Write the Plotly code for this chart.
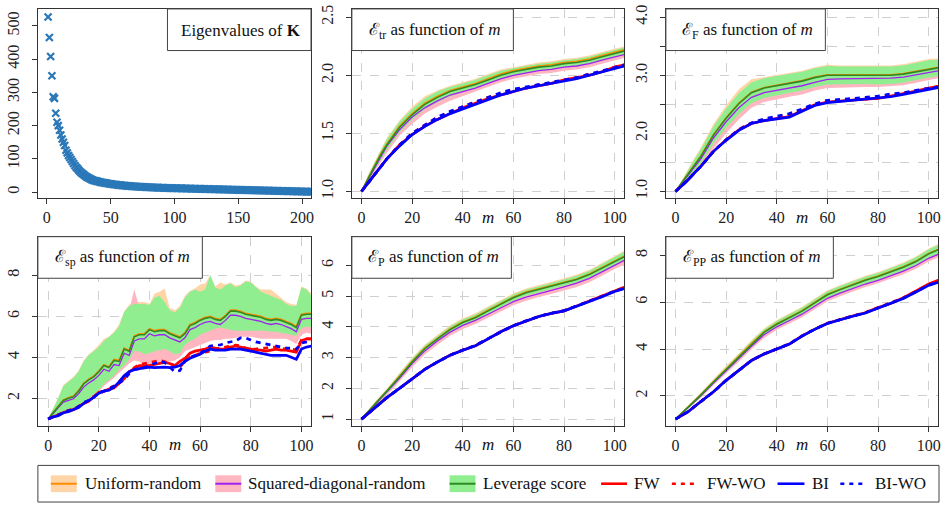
import plotly.graph_objects as go

W, H = 946, 507
OX, OY = 0, 0  # page body margin is removed below, so figure pixels == page pixels

# ---------------- data ----------------
EIG = [527, 465, 408, 350, 287, 282, 237, 210, 200, 186,
       172, 160, 150, 140, 126, 118, 110, 104, 98, 92,
       86, 80, 75, 71, 66, 62, 58, 55, 52, 49,
       46, 44, 42, 40, 38, 36, 35, 34, 33, 32,
       31, 30, 29, 28.5, 28, 27, 26.5, 26, 25, 24.5,
       24, 23.5, 23, 22.5, 22, 21.5, 21, 20.6, 20.2, 19.8,
       19.4, 19, 18.7, 18.4, 18.1, 17.8, 17.5, 17.2, 16.9, 16.6,
       16.4, 16.2, 16.0, 15.8, 15.6, 15.4, 15.2, 15.0, 14.8, 14.6,
       14.4, 14.2, 14.0, 13.8, 13.6, 13.5, 13.4, 13.2, 13.0, 12.9,
       12.8, 12.6, 12.5, 12.4, 12.2, 12.1, 12.0, 11.9, 11.8, 11.7,
       11.6, 11.5, 11.4, 11.3, 11.2, 11.1, 11.0, 10.9, 10.8, 10.7,
       10.6, 10.5, 10.4, 10.3, 10.2, 10.1, 10.0, 9.9, 9.8, 9.7,
       9.6, 9.5, 9.4, 9.3, 9.2, 9.1, 9.0, 8.9, 8.8, 8.7,
       8.6, 8.5, 8.4, 8.3, 8.2, 8.1, 8.0, 7.9, 7.8, 7.7,
       7.6, 7.5, 7.4, 7.3, 7.2, 7.1, 7.0, 6.9, 6.8, 6.7,
       6.6, 6.5, 6.4, 6.3, 6.2, 6.1, 6.0, 5.9, 5.8, 5.7,
       5.6, 5.5, 5.4, 5.3, 5.2, 5.1, 5.0, 4.9, 4.8, 4.7,
       4.6, 4.5, 4.4, 4.3, 4.2, 4.1, 4.0, 3.9, 3.8, 3.7,
       3.6, 3.5, 3.4, 3.3, 3.2, 3.1, 3.0, 2.9, 2.8, 2.7,
       2.6, 2.5, 2.4, 2.3, 2.2, 2.1, 2.0, 1.9, 1.8, 1.7,
       1.6, 1.5, 1.4, 1.3, 1.2, 1.1, 1.0, 0.9]
EIG_IDX = list(range(1, len(EIG) + 1))

M = [0, 2.5, 5, 7.5, 10, 15, 20, 25, 30, 35, 40, 45, 50, 55, 60, 65, 70, 75, 80, 85, 90, 95, 100, 104]

# E_tr
TR_UNI    = [1.00, 1.11, 1.22, 1.32, 1.41, 1.56, 1.67, 1.76, 1.82, 1.87, 1.90, 1.93, 1.97, 2.01, 2.04, 2.06, 2.08, 2.09, 2.11, 2.12, 2.14, 2.17, 2.20, 2.22]
TR_UNI_LO = [1.00, 1.09, 1.18, 1.27, 1.36, 1.51, 1.62, 1.71, 1.77, 1.82, 1.85, 1.89, 1.93, 1.97, 2.00, 2.02, 2.04, 2.05, 2.07, 2.08, 2.10, 2.13, 2.16, 2.18]
TR_UNI_HI = [1.00, 1.14, 1.25, 1.36, 1.46, 1.61, 1.73, 1.82, 1.87, 1.91, 1.94, 1.97, 2.01, 2.05, 2.07, 2.09, 2.11, 2.12, 2.14, 2.15, 2.17, 2.20, 2.23, 2.25]
TR_SQD    = [1.00, 1.10, 1.20, 1.30, 1.39, 1.53, 1.64, 1.72, 1.78, 1.83, 1.86, 1.89, 1.93, 1.97, 2.00, 2.02, 2.04, 2.05, 2.07, 2.08, 2.10, 2.13, 2.16, 2.18]
TR_SQD_LO = [1.00, 1.08, 1.16, 1.25, 1.33, 1.48, 1.58, 1.67, 1.73, 1.78, 1.82, 1.86, 1.90, 1.94, 1.97, 1.99, 2.01, 2.02, 2.04, 2.05, 2.07, 2.10, 2.13, 2.15]
TR_SQD_HI = [1.00, 1.12, 1.23, 1.34, 1.43, 1.57, 1.68, 1.76, 1.82, 1.87, 1.90, 1.93, 1.97, 2.01, 2.04, 2.06, 2.08, 2.09, 2.11, 2.12, 2.14, 2.17, 2.20, 2.22]
TR_LEV    = [1.00, 1.11, 1.21, 1.31, 1.40, 1.55, 1.66, 1.75, 1.81, 1.86, 1.89, 1.92, 1.96, 2.00, 2.03, 2.05, 2.07, 2.08, 2.10, 2.11, 2.13, 2.16, 2.19, 2.21]
TR_LEV_LO = [1.00, 1.09, 1.18, 1.27, 1.36, 1.51, 1.62, 1.71, 1.77, 1.82, 1.86, 1.89, 1.93, 1.97, 2.00, 2.02, 2.04, 2.05, 2.07, 2.08, 2.10, 2.13, 2.16, 2.18]
TR_LEV_HI = [1.00, 1.13, 1.24, 1.35, 1.45, 1.60, 1.71, 1.80, 1.86, 1.90, 1.93, 1.96, 2.00, 2.04, 2.06, 2.08, 2.10, 2.11, 2.13, 2.14, 2.16, 2.19, 2.22, 2.24]
TR_FW     = [1.00, 1.07, 1.14, 1.21, 1.28, 1.40, 1.49, 1.56, 1.62, 1.67, 1.72, 1.76, 1.80, 1.83, 1.86, 1.89, 1.91, 1.93, 1.96, 1.98, 2.00, 2.03, 2.07, 2.09]
TR_FWWO   = [1.00, 1.07, 1.14, 1.21, 1.28, 1.40, 1.50, 1.57, 1.64, 1.68, 1.73, 1.77, 1.81, 1.84, 1.87, 1.89, 1.92, 1.93, 1.96, 1.98, 2.01, 2.03, 2.07, 2.09]
TR_BI     = [1.00, 1.07, 1.14, 1.21, 1.28, 1.39, 1.49, 1.56, 1.62, 1.67, 1.71, 1.75, 1.79, 1.83, 1.86, 1.89, 1.91, 1.93, 1.95, 1.97, 2.00, 2.03, 2.06, 2.08]
TR_BIWO   = [1.00, 1.07, 1.14, 1.21, 1.28, 1.40, 1.50, 1.57, 1.64, 1.69, 1.73, 1.77, 1.81, 1.85, 1.88, 1.90, 1.92, 1.94, 1.96, 1.98, 2.01, 2.04, 2.07, 2.09]

# E_F
F_UNI    = [1.00, 1.15, 1.31, 1.46, 1.61, 1.98, 2.27, 2.52, 2.71, 2.79, 2.83, 2.87, 2.91, 2.97, 3.01, 3.01, 3.01, 3.01, 3.00, 3.01, 3.03, 3.07, 3.12, 3.14]
F_UNI_LO = [1.00, 1.11, 1.22, 1.35, 1.48, 1.82, 2.09, 2.33, 2.52, 2.61, 2.65, 2.70, 2.74, 2.80, 2.84, 2.85, 2.85, 2.85, 2.84, 2.85, 2.87, 2.91, 2.96, 2.99]
F_UNI_HI = [1.00, 1.20, 1.40, 1.58, 1.75, 2.16, 2.48, 2.76, 2.93, 2.97, 3.01, 3.04, 3.08, 3.14, 3.18, 3.17, 3.17, 3.17, 3.16, 3.17, 3.19, 3.23, 3.28, 3.29]
F_SQD    = [1.00, 1.14, 1.28, 1.42, 1.56, 1.92, 2.20, 2.44, 2.62, 2.70, 2.74, 2.78, 2.82, 2.88, 2.93, 2.94, 2.94, 2.94, 2.94, 2.95, 2.97, 3.01, 3.06, 3.08]
F_SQD_LO = [1.00, 1.10, 1.19, 1.30, 1.42, 1.74, 2.00, 2.24, 2.44, 2.54, 2.58, 2.63, 2.67, 2.74, 2.78, 2.79, 2.79, 2.80, 2.80, 2.81, 2.83, 2.87, 2.92, 2.95]
F_SQD_HI = [1.00, 1.17, 1.35, 1.52, 1.68, 2.06, 2.36, 2.60, 2.78, 2.86, 2.90, 2.94, 2.98, 3.04, 3.08, 3.08, 3.08, 3.08, 3.08, 3.09, 3.11, 3.15, 3.20, 3.22]
F_LEV    = [1.00, 1.15, 1.30, 1.45, 1.60, 1.97, 2.26, 2.51, 2.70, 2.78, 2.82, 2.86, 2.90, 2.96, 3.00, 3.00, 3.00, 3.00, 2.99, 3.00, 3.02, 3.06, 3.11, 3.13]
F_LEV_LO = [1.00, 1.11, 1.22, 1.35, 1.48, 1.82, 2.09, 2.33, 2.52, 2.61, 2.65, 2.70, 2.74, 2.80, 2.84, 2.85, 2.85, 2.85, 2.84, 2.85, 2.87, 2.91, 2.96, 2.99]
F_LEV_HI = [1.00, 1.19, 1.38, 1.55, 1.72, 2.12, 2.43, 2.69, 2.88, 2.95, 2.99, 3.02, 3.06, 3.12, 3.16, 3.15, 3.15, 3.15, 3.14, 3.15, 3.17, 3.21, 3.26, 3.27]
F_FW     = [1.00, 1.10, 1.20, 1.32, 1.43, 1.69, 1.89, 2.06, 2.17, 2.22, 2.26, 2.29, 2.39, 2.49, 2.54, 2.56, 2.58, 2.59, 2.60, 2.64, 2.69, 2.73, 2.78, 2.81]
F_FWWO   = [1.00, 1.10, 1.20, 1.32, 1.43, 1.69, 1.89, 2.07, 2.18, 2.24, 2.27, 2.31, 2.40, 2.49, 2.55, 2.57, 2.58, 2.59, 2.61, 2.65, 2.69, 2.73, 2.78, 2.81]
F_BI     = [1.00, 1.10, 1.20, 1.32, 1.43, 1.69, 1.88, 2.05, 2.17, 2.22, 2.25, 2.28, 2.38, 2.48, 2.53, 2.55, 2.57, 2.58, 2.60, 2.63, 2.67, 2.71, 2.76, 2.79]
F_BIWO   = [1.00, 1.10, 1.20, 1.32, 1.43, 1.69, 1.89, 2.06, 2.18, 2.25, 2.30, 2.34, 2.42, 2.51, 2.57, 2.58, 2.60, 2.62, 2.64, 2.68, 2.70, 2.74, 2.78, 2.80]

# E_P
P_UNI    = [1.00, 1.24, 1.47, 1.69, 1.91, 2.39, 2.88, 3.31, 3.63, 3.93, 4.16, 4.32, 4.54, 4.75, 4.97, 5.13, 5.24, 5.34, 5.45, 5.56, 5.72, 5.94, 6.15, 6.31]
P_UNI_LO = [1.00, 1.20, 1.41, 1.62, 1.82, 2.28, 2.76, 3.19, 3.51, 3.81, 4.04, 4.20, 4.42, 4.63, 4.85, 5.01, 5.12, 5.22, 5.33, 5.44, 5.60, 5.81, 6.02, 6.18]
P_UNI_HI = [1.00, 1.28, 1.54, 1.77, 1.99, 2.50, 3.00, 3.43, 3.75, 4.05, 4.28, 4.44, 4.66, 4.87, 5.09, 5.25, 5.37, 5.47, 5.58, 5.70, 5.86, 6.09, 6.31, 6.48]
P_SQD    = [1.00, 1.22, 1.44, 1.66, 1.86, 2.33, 2.81, 3.22, 3.54, 3.83, 4.05, 4.21, 4.41, 4.61, 4.82, 4.97, 5.09, 5.19, 5.30, 5.42, 5.58, 5.80, 6.02, 6.17]
P_SQD_LO = [1.00, 1.19, 1.38, 1.58, 1.77, 2.22, 2.69, 3.10, 3.42, 3.71, 3.93, 4.09, 4.29, 4.49, 4.70, 4.85, 4.97, 5.07, 5.18, 5.30, 5.45, 5.66, 5.88, 6.03]
P_SQD_HI = [1.00, 1.25, 1.50, 1.73, 1.94, 2.42, 2.90, 3.31, 3.63, 3.92, 4.14, 4.30, 4.50, 4.70, 4.91, 5.06, 5.18, 5.28, 5.39, 5.51, 5.67, 5.89, 6.11, 6.27]
P_LEV    = [1.00, 1.23, 1.46, 1.68, 1.89, 2.37, 2.86, 3.29, 3.61, 3.91, 4.14, 4.30, 4.52, 4.73, 4.95, 5.11, 5.22, 5.32, 5.43, 5.54, 5.70, 5.92, 6.13, 6.29]
P_LEV_LO = [1.00, 1.20, 1.41, 1.62, 1.82, 2.28, 2.76, 3.19, 3.51, 3.81, 4.04, 4.20, 4.42, 4.63, 4.85, 5.01, 5.12, 5.22, 5.33, 5.44, 5.60, 5.81, 6.02, 6.18]
P_LEV_HI = [1.00, 1.26, 1.51, 1.74, 1.96, 2.46, 2.96, 3.39, 3.71, 4.01, 4.24, 4.40, 4.62, 4.83, 5.05, 5.21, 5.33, 5.43, 5.54, 5.66, 5.82, 6.05, 6.27, 6.45]
P_FW     = [1.00, 1.18, 1.35, 1.53, 1.70, 2.00, 2.32, 2.62, 2.86, 3.08, 3.24, 3.39, 3.61, 3.84, 4.04, 4.20, 4.34, 4.44, 4.52, 4.68, 4.84, 5.00, 5.18, 5.30]
P_FWWO   = [1.00, 1.18, 1.35, 1.53, 1.70, 2.00, 2.32, 2.62, 2.86, 3.08, 3.25, 3.40, 3.61, 3.84, 4.04, 4.20, 4.34, 4.44, 4.53, 4.68, 4.84, 5.00, 5.18, 5.29]
P_BI     = [1.00, 1.18, 1.35, 1.53, 1.70, 2.00, 2.32, 2.62, 2.86, 3.08, 3.24, 3.39, 3.61, 3.84, 4.04, 4.20, 4.34, 4.44, 4.52, 4.67, 4.82, 4.98, 5.15, 5.25]
P_BIWO   = [1.00, 1.18, 1.35, 1.53, 1.70, 2.00, 2.32, 2.62, 2.86, 3.08, 3.25, 3.40, 3.62, 3.84, 4.04, 4.20, 4.34, 4.45, 4.53, 4.68, 4.83, 4.99, 5.16, 5.26]

# E_PP
PP_UNI    = [1.00, 1.25, 1.50, 1.77, 2.04, 2.60, 3.15, 3.67, 4.23, 4.73, 5.08, 5.36, 5.64, 5.99, 6.34, 6.56, 6.77, 6.96, 7.12, 7.31, 7.52, 7.76, 8.09, 8.28]
PP_UNI_LO = [1.00, 1.22, 1.44, 1.70, 1.96, 2.50, 3.03, 3.54, 4.09, 4.58, 4.93, 5.20, 5.48, 5.83, 6.18, 6.40, 6.61, 6.80, 6.96, 7.15, 7.36, 7.59, 7.91, 8.09]
PP_UNI_HI = [1.00, 1.29, 1.56, 1.85, 2.13, 2.72, 3.28, 3.81, 4.38, 4.88, 5.24, 5.53, 5.81, 6.16, 6.51, 6.73, 6.94, 7.13, 7.29, 7.48, 7.70, 7.96, 8.30, 8.50]
PP_SQD    = [1.00, 1.24, 1.48, 1.74, 2.00, 2.55, 3.08, 3.58, 4.12, 4.61, 4.95, 5.22, 5.49, 5.83, 6.17, 6.39, 6.59, 6.78, 6.94, 7.13, 7.33, 7.57, 7.88, 8.06]
PP_SQD_LO = [1.00, 1.21, 1.42, 1.67, 1.92, 2.45, 2.97, 3.46, 3.99, 4.47, 4.82, 5.09, 5.36, 5.70, 6.04, 6.26, 6.46, 6.65, 6.81, 7.00, 7.20, 7.43, 7.74, 7.92]
PP_SQD_HI = [1.00, 1.27, 1.53, 1.80, 2.07, 2.64, 3.18, 3.69, 4.25, 4.74, 5.08, 5.36, 5.63, 5.97, 6.31, 6.53, 6.73, 6.92, 7.08, 7.27, 7.47, 7.72, 8.03, 8.21]
PP_LEV    = [1.00, 1.25, 1.49, 1.76, 2.03, 2.59, 3.13, 3.65, 4.21, 4.71, 5.06, 5.34, 5.62, 5.97, 6.32, 6.54, 6.75, 6.94, 7.10, 7.29, 7.50, 7.74, 8.07, 8.26]
PP_LEV_LO = [1.00, 1.22, 1.44, 1.70, 1.96, 2.50, 3.03, 3.54, 4.09, 4.58, 4.93, 5.20, 5.48, 5.83, 6.18, 6.40, 6.61, 6.80, 6.96, 7.15, 7.36, 7.59, 7.91, 8.09]
PP_LEV_HI = [1.00, 1.28, 1.54, 1.82, 2.10, 2.68, 3.23, 3.76, 4.33, 4.84, 5.20, 5.49, 5.77, 6.12, 6.47, 6.69, 6.90, 7.09, 7.25, 7.44, 7.66, 7.92, 8.26, 8.46]
PP_FW     = [1.00, 1.16, 1.32, 1.54, 1.75, 2.17, 2.66, 3.09, 3.51, 3.79, 4.00, 4.21, 4.56, 4.85, 5.10, 5.27, 5.41, 5.55, 5.77, 5.95, 6.19, 6.48, 6.78, 6.95]
PP_FWWO   = [1.00, 1.16, 1.32, 1.54, 1.75, 2.17, 2.66, 3.09, 3.51, 3.79, 4.01, 4.22, 4.56, 4.85, 5.10, 5.27, 5.41, 5.56, 5.77, 5.95, 6.19, 6.47, 6.77, 6.93]
PP_BI     = [1.00, 1.16, 1.32, 1.54, 1.75, 2.17, 2.66, 3.09, 3.51, 3.79, 4.00, 4.21, 4.55, 4.84, 5.09, 5.26, 5.40, 5.54, 5.75, 5.93, 6.16, 6.44, 6.72, 6.86]
PP_BIWO   = [1.00, 1.16, 1.32, 1.54, 1.75, 2.17, 2.66, 3.09, 3.51, 3.79, 4.01, 4.22, 4.56, 4.85, 5.10, 5.27, 5.41, 5.55, 5.76, 5.94, 6.17, 6.45, 6.74, 6.87]

# E_sp (noisier, every 2 steps of m)
M_SP = list(range(0, 105, 2))
SP_UNI = [1.00, 1.32, 1.63, 1.93, 2.03, 2.12, 2.38, 2.74, 2.94, 3.09, 3.34, 3.64, 3.54, 3.90, 3.85, 4.45, 4.35, 5.05, 5.15, 5.15,
          5.40, 5.30, 5.35, 5.35, 5.20, 5.10, 5.00, 5.20, 5.60, 5.70, 5.85, 5.95, 6.00, 5.90, 5.85, 6.05, 6.30, 6.30, 6.25, 6.15,
          6.10, 6.05, 6.00, 5.90, 5.85, 5.90, 5.85, 5.75, 5.65, 5.50, 6.10, 6.15, 6.15]
SP_UNI_HI = [1.00, 1.50, 2.05, 2.65, 2.85, 3.05, 3.35, 3.85, 4.15, 4.35, 4.60, 4.90, 5.00, 5.25, 5.60, 6.25, 6.55, 6.70, 6.70, 6.70,
             6.60, 7.10, 7.20, 7.35, 6.40, 6.30, 6.50, 7.00, 7.25, 7.35, 7.55, 7.60, 8.00, 7.45, 7.65, 7.55, 7.65, 7.50, 7.55, 7.75,
             7.70, 7.45, 7.30, 7.30, 7.30, 7.10, 6.90, 6.70, 6.60, 6.55, 7.45, 7.35, 7.10]
SP_LEV = [1.00, 1.30, 1.60, 1.90, 2.00, 2.08, 2.35, 2.70, 2.90, 3.05, 3.30, 3.60, 3.50, 3.85, 3.80, 4.40, 4.30, 5.00, 5.10, 5.10,
          5.35, 5.25, 5.30, 5.30, 5.15, 5.05, 4.95, 5.15, 5.55, 5.65, 5.80, 5.90, 5.95, 5.85, 5.80, 6.00, 6.25, 6.25, 6.20, 6.10,
          6.05, 6.00, 5.95, 5.85, 5.80, 5.85, 5.80, 5.70, 5.60, 5.45, 6.05, 6.10, 6.10]
SP_LEV_LO = [1.00, 1.15, 1.25, 1.35, 1.40, 1.45, 1.60, 1.80, 2.00, 2.20, 2.40, 2.70, 2.90, 3.10, 3.40, 3.60, 3.90, 4.30, 4.30, 4.15,
             4.20, 4.30, 4.35, 4.40, 4.30, 4.15, 4.20, 4.60, 4.80, 4.90, 5.10, 5.20, 5.30, 5.40, 5.45, 5.40, 5.35, 5.30, 5.30, 5.30,
             5.30, 5.30, 5.30, 5.30, 5.25, 5.25, 5.20, 5.15, 5.10, 5.05, 5.40, 5.50, 5.45]
SP_LEV_HI = [1.00, 1.50, 2.00, 2.60, 2.80, 3.00, 3.30, 3.80, 4.10, 4.30, 4.50, 4.80, 5.00, 5.20, 5.50, 6.20, 6.50, 6.60, 6.60, 6.60,
             6.55, 6.90, 7.00, 6.70, 6.30, 6.20, 6.40, 6.90, 7.20, 7.30, 7.20, 7.30, 8.00, 7.40, 7.30, 7.50, 7.60, 7.40, 7.50, 7.70,
             7.65, 7.40, 7.20, 7.10, 7.00, 6.90, 6.80, 6.60, 6.50, 6.50, 7.40, 7.30, 7.00]
SP_UNI_LO = SP_LEV_LO
SP_SQD = [1.00, 1.28, 1.55, 1.82, 1.90, 1.98, 2.22, 2.55, 2.75, 2.90, 3.12, 3.42, 3.32, 3.65, 3.60, 4.20, 4.10, 4.80, 4.90, 4.90,
          5.15, 5.05, 5.10, 5.10, 4.95, 4.85, 4.75, 4.95, 5.35, 5.45, 5.60, 5.70, 5.75, 5.65, 5.60, 5.80, 6.05, 6.05, 6.00, 5.90,
          5.85, 5.80, 5.75, 5.65, 5.60, 5.65, 5.60, 5.50, 5.40, 5.25, 5.85, 5.90, 5.90]
SP_SQD_LO = [1.00, 1.10, 1.20, 1.30, 1.35, 1.40, 1.55, 1.75, 1.95, 2.15, 2.35, 2.60, 2.80, 3.00, 3.25, 3.45, 3.70, 3.85, 3.80, 3.60,
             3.50, 3.60, 3.75, 3.75, 3.80, 3.85, 4.00, 4.30, 4.40, 4.50, 4.60, 4.70, 4.80, 4.85, 4.85, 4.90, 4.90, 4.95, 5.00, 5.00,
             5.00, 4.95, 4.90, 4.90, 4.90, 4.90, 4.90, 4.90, 4.80, 4.65, 5.10, 5.20, 5.15]
SP_SQD_HI = [1.00, 1.45, 1.90, 2.50, 2.70, 2.90, 3.20, 3.70, 4.00, 4.20, 4.40, 4.70, 4.90, 5.10, 5.40, 6.00, 6.30, 7.30, 6.40, 6.40,
             6.40, 6.70, 6.80, 6.50, 6.10, 6.00, 6.20, 6.70, 7.00, 7.10, 7.00, 7.10, 7.80, 7.20, 7.10, 7.30, 7.40, 7.20, 7.30, 7.50,
             7.45, 7.20, 7.00, 6.90, 6.80, 6.70, 6.60, 6.40, 6.30, 6.30, 7.20, 7.10, 6.80]
SP_FW = [1.00, 1.10, 1.20, 1.30, 1.40, 1.45, 1.60, 1.75, 1.85, 2.10, 2.30, 2.35, 2.45, 2.50, 2.75, 2.95, 3.30, 3.45, 3.60, 3.60,
         3.60, 3.65, 3.70, 3.75, 3.70, 3.60, 3.80, 3.95, 4.20, 4.30, 4.35, 4.40, 4.50, 4.45, 4.40, 4.40, 4.50, 4.55, 4.50, 4.45,
         4.40, 4.35, 4.35, 4.30, 4.35, 4.40, 4.35, 4.35, 4.30, 4.25, 4.80, 4.90, 4.90]
SP_FWWO = [1.00, 1.10, 1.20, 1.30, 1.40, 1.50, 1.60, 1.75, 1.90, 2.10, 2.20, 2.35, 2.50, 2.60, 2.80, 3.05, 3.30, 3.50, 3.65, 3.70,
           3.75, 3.80, 3.85, 3.80, 3.70, 3.60, 3.50, 3.85, 4.00, 4.10, 4.20, 4.25, 4.30, 4.40, 4.45, 4.50, 4.55, 4.60, 4.55, 4.45,
           4.40, 4.40, 4.45, 4.45, 4.50, 4.50, 4.45, 4.40, 4.40, 4.35, 4.85, 4.90, 4.90]
SP_BI = [1.00, 1.10, 1.15, 1.30, 1.35, 1.45, 1.55, 1.75, 1.90, 2.05, 2.25, 2.35, 2.40, 2.55, 2.80, 3.10, 3.30, 3.40, 3.45, 3.50,
         3.52, 3.50, 3.52, 3.52, 3.50, 3.52, 3.60, 3.80, 3.95, 4.05, 4.15, 4.30, 4.40, 4.35, 4.35, 4.35, 4.40, 4.40, 4.40, 4.35,
         4.30, 4.25, 4.20, 4.15, 4.10, 4.10, 4.10, 4.10, 4.00, 3.90, 4.40, 4.50, 4.55]
SP_BIWO = [1.00, 1.10, 1.20, 1.30, 1.40, 1.45, 1.60, 1.80, 1.90, 2.05, 2.30, 2.35, 2.45, 2.60, 2.75, 2.90, 3.20, 3.40, 3.45, 3.50,
           3.60, 3.70, 3.80, 3.75, 3.50, 3.30, 3.35, 3.80, 4.00, 4.10, 4.20, 4.35, 4.55, 4.60, 4.60, 4.70, 4.75, 4.80, 4.95, 4.95,
           4.85, 4.75, 4.70, 4.65, 4.60, 4.55, 4.50, 4.45, 4.45, 4.40, 4.70, 4.75, 4.80]

for name, arr in list(globals().items()):
    if name[:3] in ("TR_", "SP_") or name[:2] in ("F_", "P_") or name[:3] == "PP_":
        ref = M_SP if name.startswith("SP_") else M
        assert len(arr) == len(ref), (name, len(arr))

# ---------------- styling ----------------
FONT = "Liberation Serif"
PEACH, PINK, LGREEN = "#FFD5A8", "#FFB6C1", "#90EE90"
ORANGE, PURPLE, DGREEN = "#FF8C00", "#A020F0", "#2E8B22"
RED, BLUE = "#FF0000", "#0000FF"
FRAME = "#333333"
GRID = "#cfcfcf"
TOPMIN = OY + 0.5


def px(x):
    return (x - OX) / W


def py(y):
    return 1 - (y - OY) / H


fig = go.Figure()

# panel geometry in reference pixels: (left, right, top, bottom)
BOX = {
    1: (38, 312, 5, 196), 2: (353, 626, 5, 196), 3: (668, 941, 5, 196),
    4: (38, 312, 235, 426), 5: (353, 626, 235, 426), 6: (668, 941, 235, 426),
}


def axnames(k):
    return ("x" if k == 1 else f"x{k}"), ("y" if k == 1 else f"y{k}")


def add_axes(k, xr, yr, xt, yt, ytext, grid=True, yminor=None):
    l, r, t, b = BOX[k]
    yr = list(yr)
    if t < TOPMIN:  # cannot draw above the page offset: trim range, keep scale
        per_px = (yr[1] - yr[0]) / (b - t)
        yr[1] -= (TOPMIN - t) * per_px
        t = TOPMIN
    common = dict(showline=True, mirror=True, linecolor=FRAME, linewidth=1,
                  ticks="outside", ticklen=5, tickcolor=FRAME, tickwidth=1,
                  tickfont=dict(family=FONT, size=16, color="#222"),
                  zeroline=False, showgrid=grid, gridcolor=GRID,
                  griddash="dash", gridwidth=1, fixedrange=True,
                  ticklabeloverflow="allow")
    xn, yn = axnames(k)
    xkey = "xaxis" if k == 1 else f"xaxis{k}"
    ykey = "yaxis" if k == 1 else f"yaxis{k}"
    fig.layout[xkey] = dict(domain=[px(l), px(r)], anchor=yn, range=xr,
                            tickmode="array", tickvals=xt,
                            ticktext=[str(v) for v in xt],
                            ticklabelstandoff=0, **common)
    ydict = dict(domain=[py(b), py(t)], anchor=xn, range=yr,
                 tickmode="array", tickvals=yt, ticktext=ytext,
                 tickangle=-90, ticklabelstandoff=6, **common)
    if yminor:
        ydict["minor"] = dict(tickmode="array", tickvals=yminor, ticks="outside",
                              ticklen=5, tickcolor=FRAME, tickwidth=1,
                              showgrid=True, gridcolor=GRID, griddash="dash", gridwidth=1)
    fig.layout[ykey] = ydict


def band(k, xs, lo, hi, color):
    xn, yn = axnames(k)
    fig.add_trace(go.Scatter(x=list(xs) + list(xs)[::-1], y=list(hi) + list(lo)[::-1],
                             fill="toself", fillcolor=color, mode="lines",
                             line=dict(width=0, color=color), hoverinfo="skip",
                             showlegend=False, xaxis=xn, yaxis=yn))


def line(k, xs, ys, color, width, dash="solid"):
    xn, yn = axnames(k)
    fig.add_trace(go.Scatter(x=xs, y=ys, mode="lines",
                             line=dict(color=color, width=width, dash=dash),
                             hoverinfo="skip", showlegend=False, xaxis=xn, yaxis=yn))


def panel(k, xs, uni, uni_lo, uni_hi, sqd, sqd_lo, sqd_hi, lev, lev_lo, lev_hi, fw, fwwo, bi, biwo):
    band(k, xs, uni_lo, uni_hi, PEACH)
    band(k, xs, sqd_lo, sqd_hi, PINK)
    band(k, xs, lev_lo, lev_hi, LGREEN)
    line(k, xs, uni, ORANGE, 1.6)
    line(k, xs, sqd, PURPLE, 1.3)
    line(k, xs, lev, DGREEN, 1.6)
    line(k, xs, fw, RED, 2.7)
    line(k, xs, fwwo, RED, 2.7, "5px,5px")
    line(k, xs, bi, BLUE, 2.7)
    line(k, xs, biwo, BLUE, 2.7, "5px,5px")


# panel 1: eigenvalues
fig.add_trace(go.Scatter(x=EIG_IDX, y=EIG, mode="markers",
                         marker=dict(symbol="x-thin-open", size=7, color="#2A78B8",
                                     line=dict(width=2.2, color="#2A78B8")),
                         hoverinfo="skip", showlegend=False, xaxis="x", yaxis="y"))
add_axes(1, [-7, 207], [-18, 551], [0, 50, 100, 150, 200],
         [0, 100, 200, 300, 400, 500], ["0", "100", "200", "300", "400", "500"], grid=False)

MT = [0, 20, 40, 60, 80, 100]
panel(2, M, TR_UNI, TR_UNI_LO, TR_UNI_HI, TR_SQD, TR_SQD_LO, TR_SQD_HI,
      TR_LEV, TR_LEV_LO, TR_LEV_HI, TR_FW, TR_FWWO, TR_BI, TR_BIWO)
add_axes(2, [-3.8, 103.7], [0.943, 2.571], MT, [1.0, 1.5, 2.0, 2.5], ["1.0", "1.5", "2.0", "2.5"])

panel(3, M, F_UNI, F_UNI_LO, F_UNI_HI, F_SQD, F_SQD_LO, F_SQD_HI,
      F_LEV, F_LEV_LO, F_LEV_HI, F_FW, F_FWWO, F_BI, F_BIWO)
add_axes(3, [-3.8, 103.7], [0.885, 4.143], MT, [1.0, 2.0, 3.0, 4.0],
         ["1.0", "2.0", "3.0", "4.0"], yminor=[1.5, 2.5, 3.5])

panel(4, M_SP, SP_UNI, SP_UNI_LO, SP_UNI_HI, SP_SQD, SP_SQD_LO, SP_SQD_HI,
      SP_LEV, SP_LEV_LO, SP_LEV_HI, SP_FW, SP_FWWO, SP_BI, SP_BIWO)
add_axes(4, [-4.06, 103.8], [0.663, 9.88], MT, [2, 4, 6, 8], ["2", "4", "6", "8"])

panel(5, M, P_UNI, P_UNI_LO, P_UNI_HI, P_SQD, P_SQD_LO, P_SQD_HI,
      P_LEV, P_LEV_LO, P_LEV_HI, P_FW, P_FWWO, P_BI, P_BIWO)
add_axes(5, [-3.8, 103.7], [0.784, 6.933], MT, [1, 2, 3, 4, 5, 6], ["1", "2", "3", "4", "5", "6"])

panel(6, M, PP_UNI, PP_UNI_LO, PP_UNI_HI, PP_SQD, PP_SQD_LO, PP_SQD_HI,
      PP_LEV, PP_LEV_LO, PP_LEV_HI, PP_FW, PP_FWWO, PP_BI, PP_BIWO)
add_axes(6, [-3.8, 103.7], [0.717, 8.804], MT, [2, 4, 6, 8], ["2", "4", "6", "8"])

# ---------------- title boxes ----------------
shapes = []
annots = []
TITLES = [
    ((168, 312, 5, 47), "Eigenvalues of <b>K</b>"),
    ((353, 515, 5, 47), "ℰ<sub>tr</sub> as function of <i>m</i>"),
    ((668, 828, 5, 47), "ℰ<sub>F</sub> as function of <i>m</i>"),
    ((38, 203, 235, 277), "ℰ<sub>sp</sub> as function of <i>m</i>"),
    ((353, 513, 235, 277), "ℰ<sub>P</sub> as function of <i>m</i>"),
    ((668, 836, 235, 277), "ℰ<sub>PP</sub> as function of <i>m</i>"),
]
for (l, r, t, b), txt in TITLES:
    tt = max(t, TOPMIN)
    shapes.append(dict(type="rect", xref="paper", yref="paper", x0=px(l), x1=px(r),
                       y0=py(b), y1=py(tt), fillcolor="white",
                       line=dict(color="#444", width=1), layer="above"))
    annots.append(dict(x=px((l + r) / 2 + 2), y=py((t + b) / 2 + 1), xref="paper", yref="paper",
                       text=txt, showarrow=False, xanchor="center", yanchor="middle",
                       font=dict(family=FONT, size=17, color="#111")))

# italic m axis labels
for k, yy in [(2, 216), (3, 216), (4, 445), (5, 445), (6, 445)]:
    xn, _ = axnames(k)
    annots.append(dict(x=50, y=py(yy), xref=xn, yref="paper", text="<i>m</i>",
                       showarrow=False, xanchor="center", yanchor="middle",
                       font=dict(family=FONT, size=17, color="#111")))

# ---------------- legend ----------------
shapes.append(dict(type="rect", xref="paper", yref="paper", x0=px(38), x1=px(942),
                   y0=py(503), y1=py(466), fillcolor="white",
                   line=dict(color="#444", width=1), layer="above"))
LY = 484.5
LEG = [
    (51, 77, PEACH, ORANGE, "solid", 2, "Uniform-random", 83),
    (216, 242, PINK, PURPLE, "solid", 2, "Squared-diagonal-random", 247),
    (451, 477, LGREEN, DGREEN, "solid", 2, "Leverage score", 483),
    (603, 629, None, RED, "solid", 2.6, "FW", 634),
    (674, 700, None, RED, "dash", 2.6, "FW-WO", 707),
    (780, 807, None, BLUE, "solid", 2.6, "BI", 813),
    (843, 870, None, BLUE, "dash", 2.6, "BI-WO", 876),
]
for x0, x1, fillc, lc, dash, lw, label, tx in LEG:
    if fillc:
        shapes.append(dict(type="rect", xref="paper", yref="paper", x0=px(x0), x1=px(x1),
                           y0=py(493), y1=py(476), fillcolor=fillc,
                           line=dict(width=0), layer="above"))
    shapes.append(dict(type="line", xref="paper", yref="paper", x0=px(x0), x1=px(x1),
                       y0=py(LY), y1=py(LY), line=dict(color=lc, width=lw,
                                                       dash="4px,5px" if dash == "dash" else "solid"),
                       layer="above"))
    annots.append(dict(x=px(tx), y=py(LY), xref="paper", yref="paper", text=label,
                       showarrow=False, xanchor="left", yanchor="middle",
                       font=dict(family=FONT, size=17, color="#111")))

fig.update_layout(width=W, height=H, margin=dict(l=0, r=0, t=0, b=0),
                  paper_bgcolor="white", plot_bgcolor="white",
                  shapes=shapes, annotations=annots, showlegend=False)

# remove the browser's default 8px body margin so the figure sits at the window origin
fig.write_html("out.html", config={"displayModeBar": False},
               post_script="document.body.style.margin='0px';document.body.style.overflow='hidden';")
